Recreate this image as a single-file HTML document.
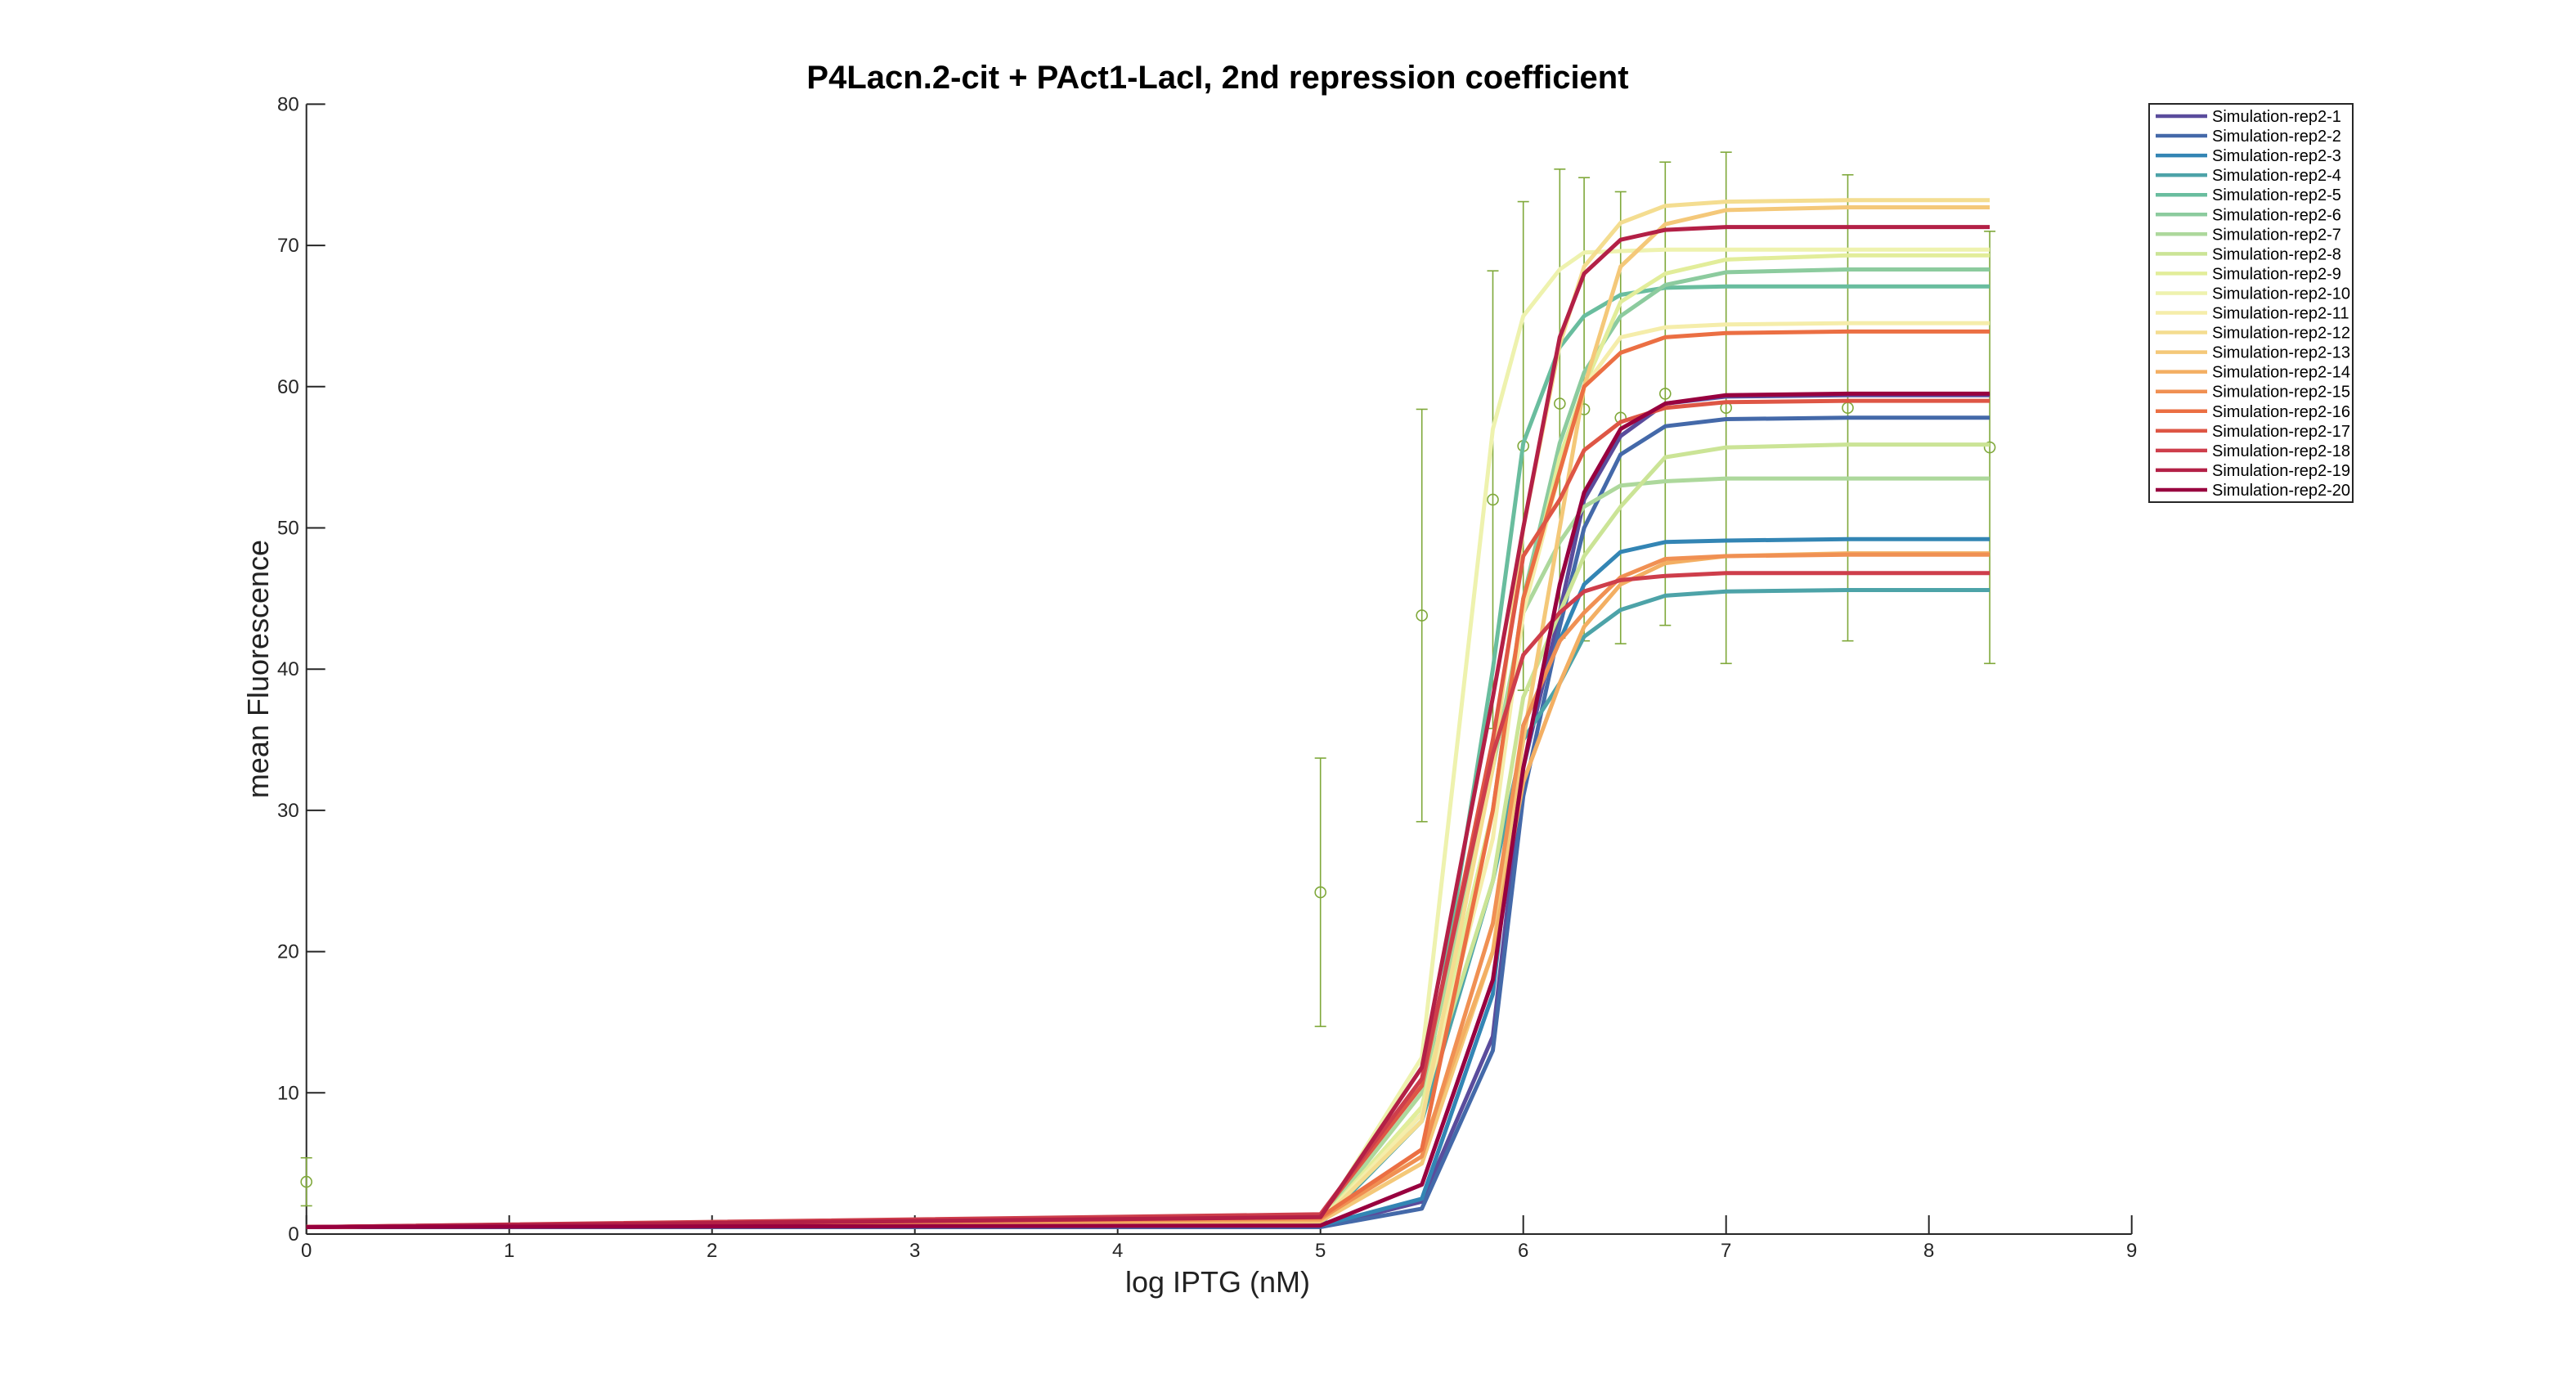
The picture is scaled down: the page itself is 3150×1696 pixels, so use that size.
<!DOCTYPE html>
<html><head><meta charset="utf-8"><style>
html,body{margin:0;padding:0;background:#fff;}
svg{display:block;font-family:"Liberation Sans",Arial,sans-serif;}
</style></head><body>
<svg id="chart" width="3150" height="1696" viewBox="0 0 3150 1696" xmlns="http://www.w3.org/2000/svg">
<rect x="0" y="0" width="3150" height="1696" fill="#fff"/>
<text x="1489" y="108" text-anchor="middle" font-size="40" font-weight="bold" fill="#000">P4Lacn.2-cit + PAct1-LacI, 2nd repression coefficient</text>
<text x="1489" y="1580" text-anchor="middle" font-size="36" fill="#222">log IPTG (nM)</text>
<text x="328" y="818" text-anchor="middle" font-size="36" fill="#222" transform="rotate(-90 328 818)">mean Fluorescence</text>
<g id="axes"></g>
<g id="errbars"></g>
<g id="series"></g>
<g id="legend"></g>
</svg>
<script>
const xTicks = [0,1,2,3,4,5,6,7,8,9];
const yTicks = [0,10,20,30,40,50,60,70,80];
const simX = [0,5,5.5,5.85,6,6.18,6.3,6.48,6.7,7,7.6,8.3];
const seriesNames = ["Simulation-rep2-1","Simulation-rep2-2","Simulation-rep2-3","Simulation-rep2-4","Simulation-rep2-5","Simulation-rep2-6","Simulation-rep2-7","Simulation-rep2-8","Simulation-rep2-9","Simulation-rep2-10","Simulation-rep2-11","Simulation-rep2-12","Simulation-rep2-13","Simulation-rep2-14","Simulation-rep2-15","Simulation-rep2-16","Simulation-rep2-17","Simulation-rep2-18","Simulation-rep2-19","Simulation-rep2-20"];
const s1 = [0.5,0.5,2.3,14,33,44,52,56.5,58.8,59.3,59.4,59.4];
const s2 = [0.5,0.5,1.8,13,31,43,50,55.2,57.2,57.7,57.8,57.8];
const s3 = [0.5,0.6,2.5,17,36,42,46,48.3,49,49.1,49.2,49.2];
const s4 = [0.5,0.7,8,25,35,39,42.3,44.2,45.2,45.5,45.6,45.6];
const s5 = [0.5,0.9,8.5,40,56,62.8,65,66.5,67,67.1,67.1,67.1];
const s6 = [0.5,0.9,9,30,45,56,61,65,67.2,68.1,68.3,68.3];
const s7 = [0.5,0.9,10,33,44,49,51.5,53,53.3,53.5,53.5,53.5];
const s8 = [0.5,0.9,9,25,38,44,48,51.5,55,55.7,55.9,55.9];
const s9 = [0.5,0.9,9,30,44,55,60,66,68,69,69.3,69.3];
const s10 = [0.5,1,12.5,57,65,68.3,69.5,69.6,69.7,69.7,69.7,69.7];
const s11 = [0.5,0.9,8.5,28,44,54,60,63.5,64.2,64.4,64.5,64.5];
const s12 = [0.5,0.9,8,33,50,63,68.5,71.6,72.8,73.1,73.2,73.2];
const s13 = [0.5,0.9,5,20,35,50,60,68.5,71.5,72.5,72.7,72.7];
const s14 = [0.5,1,6,20,32,39,43,46,47.5,48,48.2,48.2];
const s15 = [0.5,1.1,5.5,22,36,42,44,46.5,47.8,48,48.1,48.1];
const s16 = [0.5,1.2,6,30,45,54,60,62.4,63.5,63.8,63.9,63.9];
const s17 = [0.5,1.3,10.5,35,48,52,55.5,57.5,58.5,58.9,59,59];
const s18 = [0.5,1.4,11,34,41,44,45.5,46.3,46.6,46.8,46.8,46.8];
const s19 = [0.5,1.2,11.8,38,50,63.5,68,70.4,71.1,71.3,71.3,71.3];
const s20 = [0.5,0.6,3.5,18,33,46,52.5,57,58.8,59.4,59.5,59.5];
const allSeries = [s1,s2,s3,s4,s5,s6,s7,s8,s9,s10,s11,s12,s13,s14,s15,s16,s17,s18,s19,s20];
const expX = [0,5,5.5,5.85,6,6.18,6.3,6.48,6.7,7,7.6,8.3];
const expMean = [3.7,24.2,43.8,52,55.8,58.8,58.4,57.8,59.5,58.5,58.5,55.7];
const expErr = [1.7,9.5,14.6,16.2,17.3,16.6,16.4,16,16.4,18.1,16.5,15.3];

const NS="http://www.w3.org/2000/svg";
const X0=374.7, XPU=248, Y0=1509, YPU=17.27;
function sx(v){return X0+v*XPU;}
function sy(v){return Y0-v*YPU;}
function mk(tag,attrs,parent){const e=document.createElementNS(NS,tag);for(const k in attrs)e.setAttribute(k,attrs[k]);parent.appendChild(e);return e;}

const axes=document.getElementById('axes');
let e=mk('line',{x1:sx(0),y1:sy(0),x2:sx(9),y2:sy(0),stroke:'#262626','stroke-width':2},axes);


e=mk('line',{x1:sx(0),y1:sy(0),x2:sx(0),y2:sy(80),stroke:'#262626','stroke-width':2},axes);


xTicks.forEach(t=>{
  let l=mk('line',{x1:sx(t),y1:sy(0),x2:sx(t),y2:sy(0)-23,stroke:'#262626','stroke-width':2},axes);
  
  
  let tx=mk('text',{x:sx(t),y:sy(0)+28,'text-anchor':'middle','font-size':24,fill:'#262626'},axes);
  tx.textContent=t;
  
  
});
yTicks.forEach(t=>{
  let l=mk('line',{x1:sx(0),y1:sy(t),x2:sx(0)+23,y2:sy(t),stroke:'#262626','stroke-width':2},axes);
  
  
  let tx=mk('text',{x:sx(0)-9,y:sy(t)+8,'text-anchor':'end','font-size':24,fill:'#262626'},axes);
  tx.textContent=t;
  
  
});

const eb=document.getElementById('errbars');
const EC='#7fa83a';
expX.forEach((xv,i)=>{
  const g=mk('g',{},eb);
  
  
  const x=sx(xv), lo=sy(expMean[i]-expErr[i]), hi=sy(expMean[i]+expErr[i]);
  mk('line',{x1:x,y1:lo,x2:x,y2:hi,stroke:EC,'stroke-width':1.6},g);
  mk('line',{x1:x-7,y1:lo,x2:x+7,y2:lo,stroke:EC,'stroke-width':1.6},g);
  mk('line',{x1:x-7,y1:hi,x2:x+7,y2:hi,stroke:EC,'stroke-width':1.6},g);
  mk('circle',{cx:x,cy:sy(expMean[i]),r:6.5,fill:'none',stroke:EC,'stroke-width':1.6},g);
});

const spectral=["#5e4fa2","#3288bd","#66c2a5","#abdda4","#e6f598","#ffffbf","#fee08b","#fdae61","#f46d43","#d53e4f","#9e0142"];
function hex2rgb(h){return [1,3,5].map(i=>parseInt(h.substr(i,2),16));}
function colorAt(t){
  const p=t*(spectral.length-1), i=Math.min(Math.floor(p),spectral.length-2), f=p-i;
  const a=hex2rgb(spectral[i]), b=hex2rgb(spectral[i+1]);
  return 'rgb('+a.map((v,k)=>Math.round((v+(b[k]-v)*f)*0.96)).join(',')+')';
}
const colors=seriesNames.map((n,i)=>colorAt(i/(seriesNames.length-1)));

const sg=document.getElementById('series');
allSeries.forEach((vals,i)=>{
  const d=vals.map((v,j)=>(j?'L':'M')+sx(simX[j]).toFixed(1)+','+sy(v).toFixed(1)).join(' ');
  const p=mk('path',{d:d,fill:'none',stroke:colors[i],'stroke-width':5,'stroke-linejoin':'round'},sg);
  
  
});

const lg=document.getElementById('legend');
const box=mk('rect',{x:2628,y:127,width:249,height:487,fill:'#fff',stroke:'#262626','stroke-width':2},lg);


seriesNames.forEach((n,i)=>{
  const y=142+i*24.05;
  const g=mk('g',{},lg);
  
  
  mk('line',{x1:2636,y1:y,x2:2699,y2:y,stroke:colors[i],'stroke-width':4.5},g);
  const t=mk('text',{x:2705,y:y+7,'font-size':20,fill:'#000'},g);
  t.textContent=n;
});
</script>
</body></html>
